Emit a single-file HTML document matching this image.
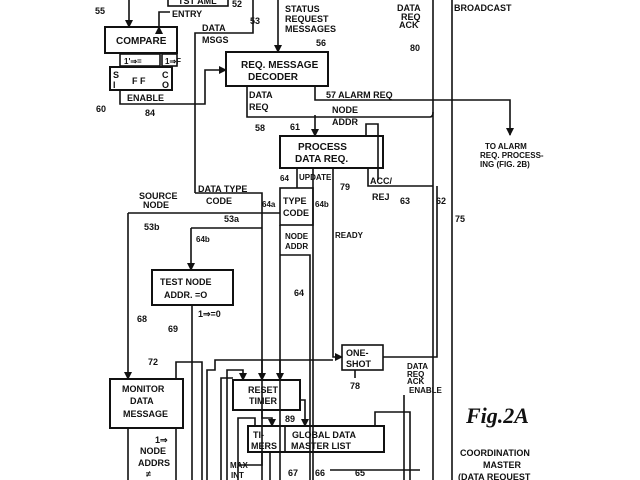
<!DOCTYPE html>
<html><head><meta charset="utf-8"><style>
html,body{margin:0;padding:0;background:#fff;}
svg{display:block}
text{font-family:"Liberation Sans",sans-serif;font-weight:bold;fill:#111;}
</style></head><body>
<svg width="640" height="480" viewBox="0 0 640 480" xmlns="http://www.w3.org/2000/svg" font-size="9">
<defs><marker id="a" markerWidth="8" markerHeight="8" refX="7" refY="4" orient="auto" markerUnits="userSpaceOnUse"><path d="M0,0 L8,4 L0,8 Z" fill="#111"/></marker></defs>
<g fill="none" stroke="#111" stroke-width="1.6">
<rect x="168" y="-4" width="60" height="10"/>
<path d="M129,0 V27" marker-end="url(#a)"/>
<path d="M159,27 V12 H170" marker-start="url(#a)"/>
<path d="M253,0 V33 H195 V193"/>
<rect x="105" y="27" width="72" height="26" stroke-width="2"/>
<rect x="120" y="54" width="40" height="12"/>
<rect x="162" y="54" width="15" height="12"/>
<rect x="110" y="67" width="62" height="23" stroke-width="2"/>
<path d="M120,90 V104 H205 V70 H226" marker-end="url(#a)"/>
<rect x="226" y="52" width="102" height="34" stroke-width="2"/>
<path d="M278,0 V52" marker-end="url(#a)"/>
<path d="M315,86 V100 H510 V135" marker-end="url(#a)"/>
<path d="M247,86 V117 H430 Q433,117 433,112"/>
<path d="M315,115 V136" marker-end="url(#a)"/>
<path d="M366,136 V124 H378 V180"/>
<path d="M433,0 V480"/>
<path d="M452,0 V480"/>
<rect x="280" y="136" width="103" height="32" stroke-width="2"/>
<path d="M297,168 V188"/>
<rect x="280" y="188" width="33" height="37"/>
<path d="M313,168 V480"/>
<path d="M333,168 V357 H342" marker-end="url(#a)"/>
<path d="M368,168 V186 H433"/>
<path d="M383,357 H437 V186"/>
<path d="M195,193 H262 V480"/>
<path d="M128,213 H280"/>
<path d="M128,213 V379" marker-end="url(#a)"/>
<path d="M191,228 H262"/>
<path d="M191,228 V270" marker-end="url(#a)"/>
<path d="M280,225 V480"/>
<path d="M280,255 H310 V480"/>
<rect x="152" y="270" width="81" height="35" stroke-width="2"/>
<path d="M192,305 V480"/>
<path d="M176,379 V362 H202 V480"/>
<path d="M207,480 V370 H215 V360 H333"/>
<path d="M221,480 V378 H233"/>
<path d="M227,480 V370 H243 V380" marker-end="url(#a)"/>
<path d="M262,360 V380" marker-end="url(#a)"/>
<path d="M280,360 V380" marker-end="url(#a)"/>
<rect x="342" y="345" width="41" height="25"/>
<path d="M355,370 V378"/>
<rect x="110" y="379" width="73" height="49" stroke-width="2"/>
<path d="M128,428 V480 M176,428 V480"/>
<rect x="233" y="380" width="67" height="30" stroke-width="2"/>
<path d="M262,410 V418 H272 V426" marker-end="url(#a)"/>
<path d="M300,400 H305 V426" marker-end="url(#a)"/>
<rect x="248" y="426" width="136" height="26" stroke-width="2"/>
<path d="M285,426 V452"/>
<path d="M238,480 V418 H255 V426"/>
<path d="M375,426 V412 H410 V480"/>
<path d="M262,452 V465 H238"/>
<path d="M270,452 V480 M330,470 H420"/>
<path d="M404,395 V480"/>
</g>
<g>
<text x="178" y="4">TST  AML</text>
<text x="232" y="7">52</text>
<text x="172" y="17">ENTRY</text>
<text x="250" y="24">53</text>
<text x="95" y="14">55</text>
<text x="116" y="44" font-size="10">COMPARE</text>
<text x="124" y="64" font-size="8">1'⇒=</text>
<text x="165" y="64" font-size="8">1⇒F</text>
<text x="113" y="78">S</text><text x="113" y="88">I</text>
<text x="132" y="84">F F</text>
<text x="162" y="78">C</text><text x="162" y="88">O</text>
<text x="127" y="101">ENABLE</text>
<text x="96" y="112">60</text>
<text x="145" y="116">84</text>
<text x="202" y="31">DATA</text>
<text x="202" y="43">MSGS</text>
<text x="285" y="12">STATUS</text>
<text x="285" y="22">REQUEST</text>
<text x="285" y="32">MESSAGES</text>
<text x="316" y="46">56</text>
<text x="241" y="68" font-size="10">REQ.  MESSAGE</text>
<text x="248" y="80" font-size="10">DECODER</text>
<text x="249" y="98">DATA</text>
<text x="249" y="110">REQ</text>
<text x="326" y="98">57  ALARM  REQ</text>
<text x="332" y="113">NODE</text>
<text x="332" y="125">ADDR</text>
<text x="255" y="131">58</text>
<text x="290" y="130">61</text>
<text x="397" y="11">DATA</text>
<text x="401" y="20">REQ</text>
<text x="399" y="28">ACK</text>
<text x="410" y="51">80</text>
<text x="454" y="11">BROADCAST</text>
<text x="298" y="150" font-size="10">PROCESS</text>
<text x="295" y="162" font-size="10">DATA  REQ.</text>
<text x="485" y="149" font-size="8">TO ALARM</text>
<text x="480" y="158" font-size="8">REQ. PROCESS-</text>
<text x="480" y="167" font-size="8">ING  (FIG. 2B)</text>
<text x="280" y="181" font-size="8">64</text>
<text x="299" y="180" font-size="8">UPDATE</text>
<text x="340" y="190">79</text>
<text x="370" y="184">ACC/</text>
<text x="372" y="200">REJ</text>
<text x="400" y="204">63</text>
<text x="436" y="204">62</text>
<text x="455" y="222">75</text>
<text x="198" y="192">DATA TYPE</text>
<text x="206" y="204">CODE</text>
<text x="139" y="199">SOURCE</text>
<text x="143" y="208">NODE</text>
<text x="144" y="230">53b</text>
<text x="224" y="222">53a</text>
<text x="262" y="207" font-size="8">64a</text>
<text x="315" y="207" font-size="8">64b</text>
<text x="283" y="204">TYPE</text>
<text x="283" y="216">CODE</text>
<text x="285" y="239" font-size="8">NODE</text>
<text x="285" y="249" font-size="8">ADDR</text>
<text x="335" y="238" font-size="8">READY</text>
<text x="196" y="242" font-size="8">64b</text>
<text x="160" y="285">TEST NODE</text>
<text x="164" y="298">ADDR. =O</text>
<text x="137" y="322">68</text>
<text x="168" y="332">69</text>
<text x="198" y="317">1⇒=0</text>
<text x="294" y="296">64</text>
<text x="346" y="356">ONE-</text>
<text x="346" y="367">SHOT</text>
<text x="350" y="389">78</text>
<text x="407" y="369" font-size="8">DATA</text>
<text x="407" y="377" font-size="8">REQ</text>
<text x="407" y="384" font-size="8">ACK</text>
<text x="409" y="393" font-size="8">ENABLE</text>
<text x="148" y="365">72</text>
<text x="122" y="392">MONITOR</text>
<text x="130" y="404">DATA</text>
<text x="123" y="417">MESSAGE</text>
<text x="155" y="443">1⇒</text>
<text x="140" y="454">NODE</text>
<text x="138" y="466">ADDRS</text>
<text x="146" y="477">≠</text>
<text x="248" y="393">RESET</text>
<text x="249" y="404">TIMER</text>
<text x="285" y="422">89</text>
<text x="253" y="438">TI-</text>
<text x="251" y="449">MERS</text>
<text x="292" y="438">GLOBAL  DATA</text>
<text x="291" y="449">MASTER  LIST</text>
<text x="230" y="468" font-size="8">MAX</text>
<text x="231" y="478" font-size="8">INT</text>
<text x="288" y="476">67</text>
<text x="315" y="476">66</text>
<text x="355" y="476">65</text>
<text x="466" y="423" font-size="22" font-style="italic" style="font-family:'Liberation Serif',serif">Fig.2A</text>
<text x="460" y="456">COORDINATION</text>
<text x="483" y="468">MASTER</text>
<text x="458" y="480">(DATA REQUEST</text>
</g>
</svg>
</body></html>
